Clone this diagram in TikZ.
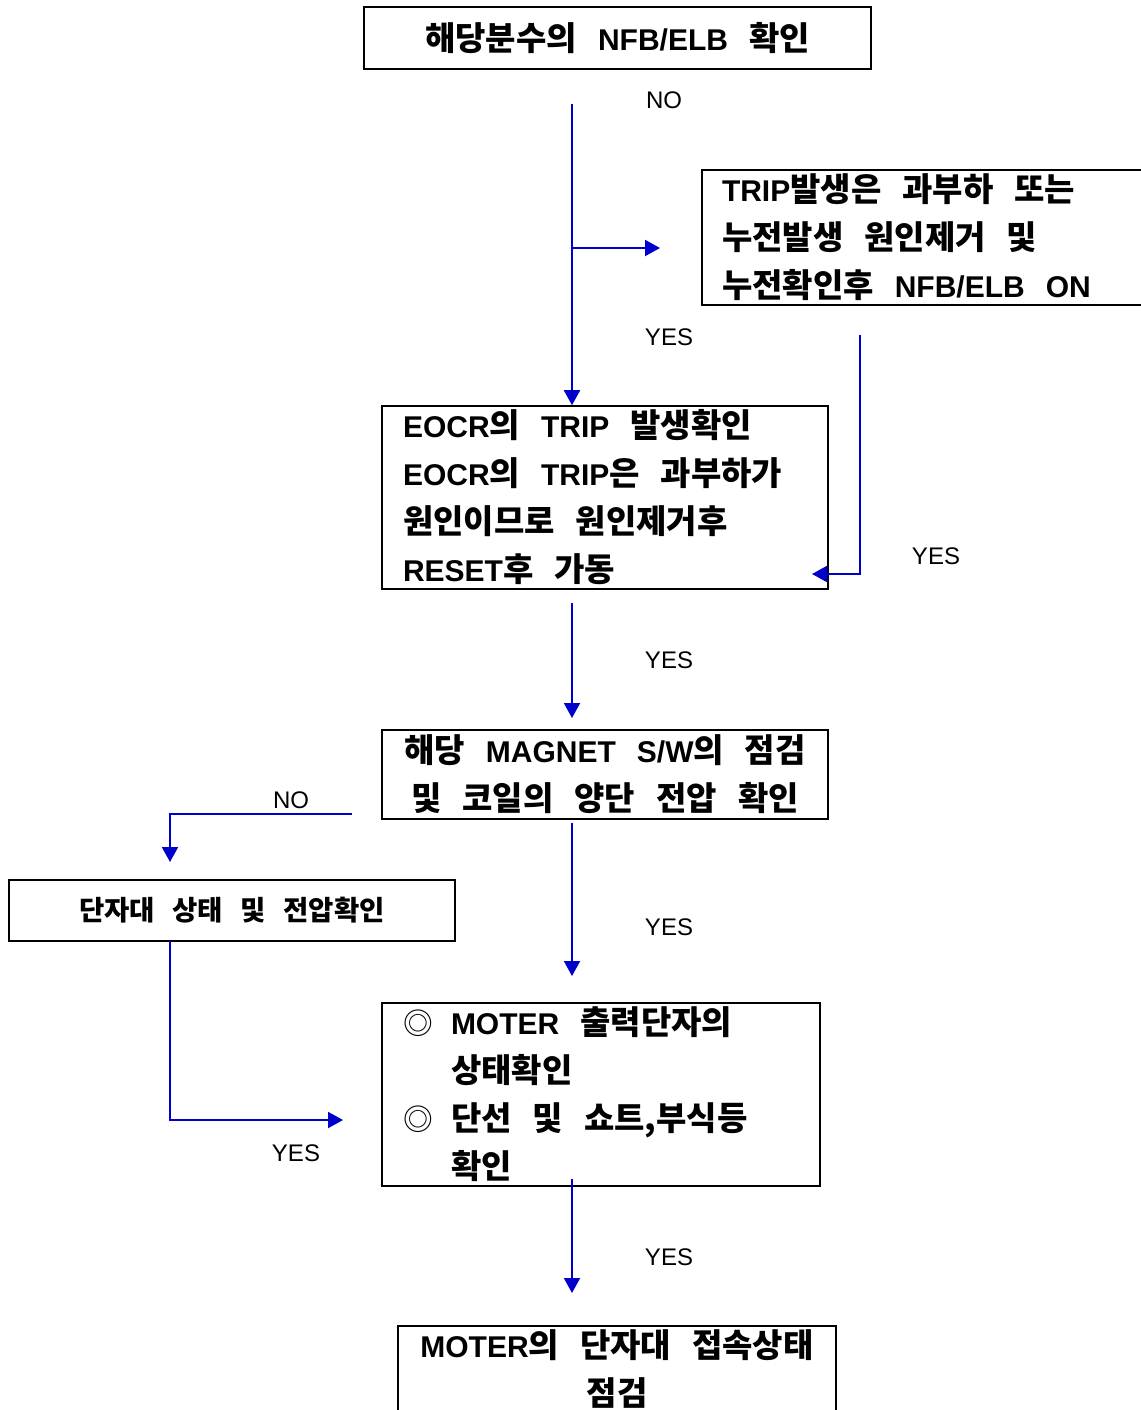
\documentclass[tikz,border=0pt]{standalone}
\usepackage{fontspec}
\setmainfont{Liberation Sans}
\newfontfamily\hgfont{Noto Sans CJK KR}[Scale=1.1]
\newcommand\hg[1]{{\hgfont #1}}
\newcommand\wsp{\spaceskip=0.7em\relax}
\newcommand\bigtxt{\bfseries\fontsize{15pt}{24pt}\selectfont\wsp}
\newcommand\smalltxt{\bfseries\fontsize{12.5pt}{15pt}\selectfont\wsp}
\newcommand\bul{\makebox[24pt][l]{\hgfont\mdseries\fontsize{13.5pt}{15pt}\selectfont ◎}}
\usetikzlibrary{arrows.meta}
\definecolor{flowblue}{RGB}{0,0,204}
\begin{document}
\begin{tikzpicture}[x=0.5pt,y=-0.5pt,
  box/.style={draw=black, line width=0.8pt, inner ysep=0pt, font=\bigtxt},
  flow/.style={draw=flowblue, line width=1pt, -{Triangle[length=7.5pt,width=8pt]}},
  lbl/.style={font=\fontsize{12pt}{14pt}\selectfont, inner sep=0pt}]
\useasboundingbox (0,0) rectangle (1141,1410);
\fill[white] (0,0) rectangle (1141,1410);
\clip (0,0) rectangle (1141,1410);

% boxes
\node[box, minimum width=253.5pt, minimum height=31pt, align=center] (top) at (617.5,38)
  {\hg{해당분수의} NFB/ELB \hg{확인}};
\node[box, text width=209pt, inner xsep=10pt, minimum height=67.5pt, align=left] (trip) at (931,237.5)
  {\wsp TRIP\hg{발생은 과부하 또는}\\ \hg{누전발생 원인제거 및}\\ \hg{누전확인후} NFB/ELB ON};
\node[box, text width=202pt, inner xsep=10.5pt, minimum height=91.5pt, align=left] (eocr) at (605,497.5)
  {\wsp EOCR\hg{의} TRIP \hg{발생확인}\\ EOCR\hg{의} TRIP\hg{은 과부하가}\\ \hg{원인이므로 원인제거후}\\ RESET\hg{후 가동}};
\node[box, minimum width=223pt, minimum height=44.5pt, align=center] (mag) at (605,774.5)
  {\hg{해당} MAGNET S/W\hg{의 점검}\\ \hg{및 코일의 양단 전압 확인}};
\node[box, minimum width=223pt, minimum height=30.5pt, font=\smalltxt] (dan) at (232,910.5)
  {\hg{단자대 상태 및 전압확인}};
\node[box, text width=198pt, inner xsep=10.5pt, minimum height=91.5pt, align=left] (mot) at (601,1094.5)
  {\wsp\bul MOTER \hg{출력단자의}\\ \hspace*{24pt}\hg{상태확인}\\ \bul\hg{단선 및 쇼트,부식등}\\ \hspace*{24pt}\hg{확인}};
\node[box, minimum width=219pt, minimum height=43pt, align=center] (fin) at (617,1369)
  {MOTER\hg{의 단자대 접속상태}\\ \hg{점검}};

% labels
\node[lbl] (l1) at (664,100) {NO};
\node[lbl] (l2) at (669,337) {YES};
\node[lbl] (l3) at (936,556) {YES};
\node[lbl] (l4) at (669,660) {YES};
\node[lbl] (l5) at (291,800) {NO};
\node[lbl] (l6) at (669,927) {YES};
\node[lbl] (l7) at (296,1153) {YES};
\node[lbl] (l8) at (669,1257) {YES};

% connectors
\coordinate (a1) at (572,104);
\draw[flow] (a1) -- (a1 |- eocr.north);
\coordinate (b1) at (572,248);
\coordinate (b2) at (660,248);
\draw[flow] (b1) -- (b2);
\coordinate (r1) at (860,335);
\coordinate (r2) at (812,574);
\draw[flow] (r1) |- (r2);
\coordinate (c1) at (572,603);
\coordinate (c2) at (572,718);
\draw[flow] (c1) -- (c2);
\coordinate (d1) at (572,823);
\coordinate (d2) at (572,976);
\draw[flow] (d1) -- (d2);
\coordinate (n1) at (352,814);
\coordinate (n2) at (170,862);
\draw[flow] (n1) -| (n2);
\coordinate (y1) at (170,941);
\coordinate (y2) at (343,1120);
\draw[flow] (y1) |- (y2);
\coordinate (e1) at (572,1179);
\coordinate (e2) at (572,1293);
\draw[flow] (e1) -- (e2);
\end{tikzpicture}
\end{document}
